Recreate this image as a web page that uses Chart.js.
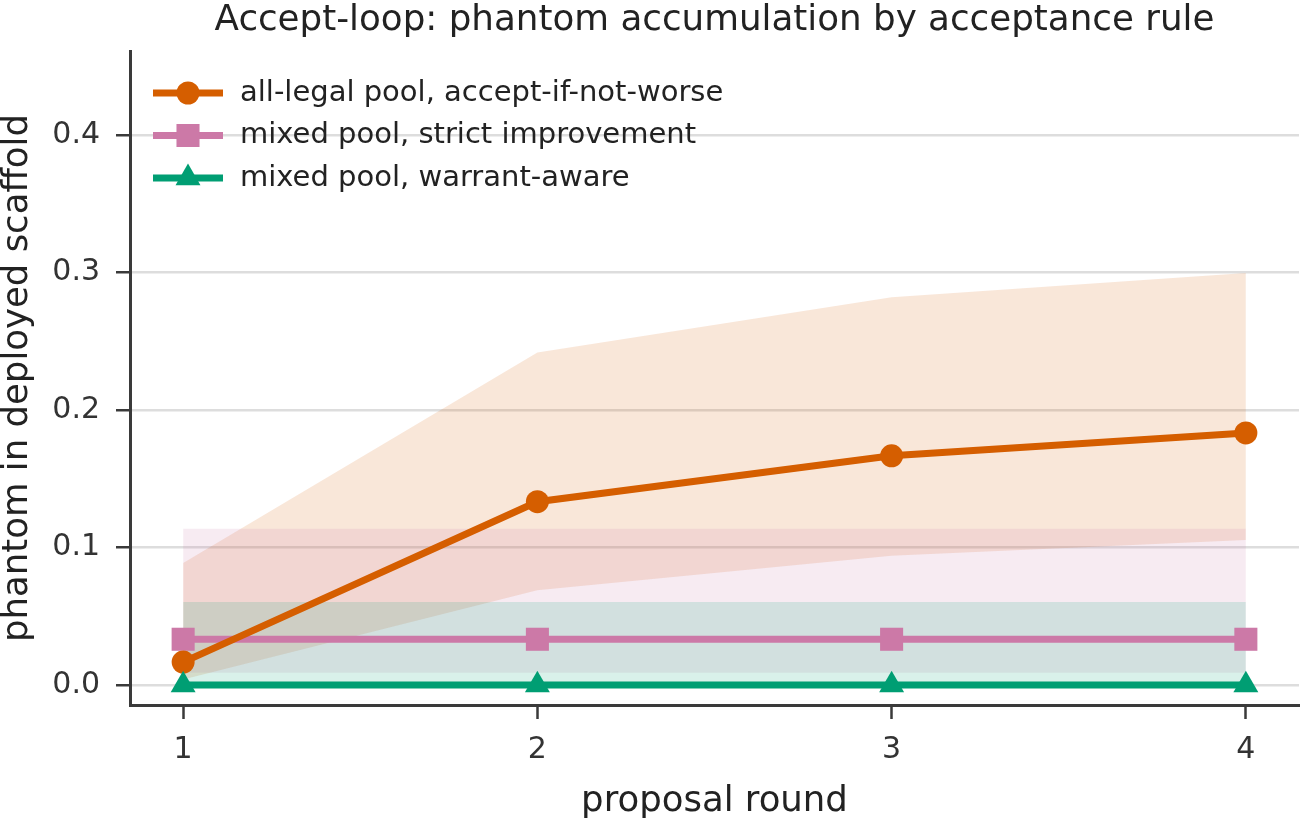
<!DOCTYPE html>
<html>
<head>
<meta charset="utf-8">
<script src="https://cdn.jsdelivr.net/npm/chart.js@4/dist/chart.umd.min.js"></script>
<style>
  html, body { margin: 0; padding: 0; background: #ffffff; }
  #wrap { width: 1302px; height: 820px; position: relative; }
</style>
</head>
<body>
<div id="wrap"><canvas id="c" width="1302" height="820"></canvas></div>
<script>
// ---- data ----
const chartTitle = 'Accept-loop: phantom accumulation by acceptance rule';
const xAxisLabel = 'proposal round';
const yAxisLabel = 'phantom in deployed scaffold';
const rounds = [1, 2, 3, 4];
const xTickValues = [1, 2, 3, 4];
const yTickValues = [0.0, 0.1, 0.2, 0.3, 0.4];
const seriesLabels = [
  'all-legal pool, accept-if-not-worse',
  'mixed pool, strict improvement',
  'mixed pool, warrant-aware'
];
const allLegalMean = [0.0167, 0.1333, 0.1667, 0.1833];
const allLegalLow  = [0.0040, 0.0690, 0.0940, 0.1055];
const allLegalHigh = [0.0887, 0.2417, 0.2820, 0.2996];
const strictMean = [0.0333, 0.0333, 0.0333, 0.0333];
const strictLow  = [0.0090, 0.0090, 0.0090, 0.0090];
const strictHigh = [0.1137, 0.1137, 0.1137, 0.1137];
const warrantMean = [0.0, 0.0, 0.0, 0.0];
const warrantLow  = [0.0, 0.0, 0.0, 0.0];
const warrantHigh = [0.0604, 0.0604, 0.0604, 0.0604];

// ---- styling ----
const colors = ['#d55e00', '#cc79a7', '#009e73'];
const bandColors = ['rgba(213,94,0,0.15)', 'rgba(204,121,167,0.15)', 'rgba(0,158,115,0.15)'];
const markerStyles = ['circle', 'rect', 'triangle'];
const markerRadii = [11.5, 16.3, 14.4];
const lineOrder = [1, 2, 0];
const FONT = "'DejaVu Sans', 'Liberation Sans', sans-serif";
const AXIS_COLOR = '#3a3a3a';

const pts = (xs, ys) => xs.map((x, i) => ({ x: x, y: ys[i] }));
const means = [allLegalMean, strictMean, warrantMean];
const lows = [allLegalLow, strictLow, warrantLow];
const highs = [allLegalHigh, strictHigh, warrantHigh];

const datasets = [];
for (let i = 0; i < 3; i++) {
  datasets.push({
    label: seriesLabels[i] + ' upper',
    data: pts(rounds, highs[i]),
    borderWidth: 0, pointRadius: 0, backgroundColor: bandColors[i],
    fill: '+1', order: 30 - i * 5, tension: 0
  });
  datasets.push({
    label: seriesLabels[i] + ' lower',
    data: pts(rounds, lows[i]),
    borderWidth: 0, pointRadius: 0, fill: false, order: 30 - i * 5, tension: 0
  });
}
for (let i = 0; i < 3; i++) {
  datasets.push({
    label: seriesLabels[i],
    data: pts(rounds, means[i]),
    borderColor: colors[i], borderWidth: 7, fill: false, tension: 0,
    pointStyle: markerStyles[i], pointRadius: markerRadii[i],
    pointBackgroundColor: colors[i], pointBorderColor: colors[i], pointBorderWidth: 0,
    order: lineOrder[i]
  });
}

const titlePlugin = {
  id: 'mplTitle',
  afterDraw(chart) {
    const ctx = chart.ctx, a = chart.chartArea;
    ctx.save();
    ctx.font = '35.7px ' + FONT;
    ctx.fillStyle = '#222222';
    ctx.textAlign = 'center';
    ctx.textBaseline = 'alphabetic';
    ctx.fillText(chartTitle, (a.left + a.right) / 2, 30);
    ctx.restore();
  }
};

const legendPlugin = {
  id: 'mplLegend',
  afterDraw(chart) {
    const ctx = chart.ctx, a = chart.chartArea;
    const rowY = [42, 84.5, 127];
    ctx.save();
    for (let i = 0; i < 3; i++) {
      const y = a.top + rowY[i];
      const x0 = a.left + 23, x1 = a.left + 93, xm = (x0 + x1) / 2;
      ctx.strokeStyle = colors[i];
      ctx.lineWidth = 7;
      ctx.beginPath(); ctx.moveTo(x0, y); ctx.lineTo(x1, y); ctx.stroke();
      ctx.fillStyle = colors[i];
      ctx.strokeStyle = colors[i];
      Chart.helpers.drawPoint(ctx, { pointStyle: markerStyles[i], radius: markerRadii[i], borderWidth: 0, rotation: 0 }, xm, y);
      ctx.fillStyle = '#222222';
      ctx.font = '29px ' + FONT;
      ctx.textAlign = 'left';
      ctx.textBaseline = 'middle';
      ctx.fillText(seriesLabels[i], a.left + 110, y);
    }
    ctx.restore();
  }
};

new Chart(document.getElementById('c'), {
  type: 'line',
  data: { datasets: datasets },
  plugins: [titlePlugin, legendPlugin],
  options: {
    responsive: false,
    animation: false,
    events: [],
    layout: { autoPadding: false, padding: { top: 51, right: 3, bottom: 0, left: 0 } },
    plugins: { legend: { display: false }, title: { display: false }, tooltip: { enabled: false } },
    scales: {
      x: {
        type: 'linear', min: 0.85, max: 4.15,
        afterFit(s) { s.height = 115; },
        afterBuildTicks(s) { s.ticks = xTickValues.map(v => ({ value: v })); },
        ticks: { color: '#333333', font: { family: FONT, size: 30 }, padding: 13, callback: v => String(v), maxRotation: 0 },
        grid: { drawOnChartArea: false, drawTicks: true, tickLength: 14, tickColor: AXIS_COLOR, tickWidth: 2.5 },
        border: { display: true, color: AXIS_COLOR, width: 3 },
        title: { display: true, text: xAxisLabel, color: '#222222', font: { family: FONT, size: 35.5, lineHeight: 1.0 }, padding: { top: 0, bottom: 0 } }
      },
      y: {
        type: 'linear', min: -0.0145, max: 0.461,
        afterFit(s) { s.width = 130; },
        afterBuildTicks(s) { s.ticks = yTickValues.map(v => ({ value: v })); },
        ticks: { color: '#333333', font: { family: FONT, size: 30 }, padding: 16, callback: v => Number(v).toFixed(1) },
        grid: { color: '#dddddd', lineWidth: 2.5, drawTicks: true, tickLength: 14, tickColor: AXIS_COLOR, tickWidth: 2.5 },
        border: { display: true, color: AXIS_COLOR, width: 3 },
        title: { display: true, text: yAxisLabel, color: '#222222', font: { family: FONT, size: 35.5, lineHeight: 1.0 }, padding: { top: 0, bottom: 0 } }
      }
    }
  }
});
</script>
</body>
</html>
